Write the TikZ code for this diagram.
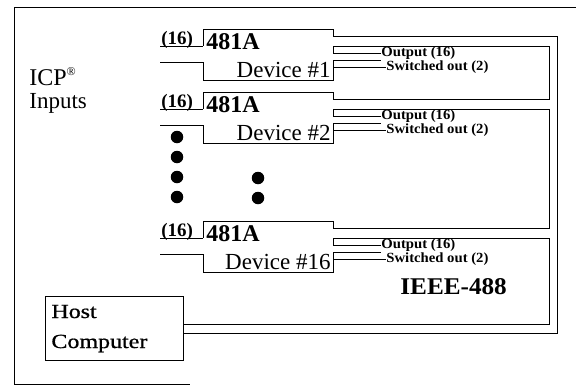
\documentclass[tikz,border=0pt]{standalone}
\usepackage{fontspec}
\setmainfont{Liberation Serif}
\newfontfamily\wideserif[FakeStretch=1.05]{Liberation Serif}
\newfontfamily\hostfont[FakeStretch=1.2,FakeBold=0.8]{Liberation Serif}
\begin{document}
\begin{tikzpicture}[x=1pt,y=-1pt,line width=0.8pt,
  inlbl/.style={font=\fontsize{19}{19}\selectfont\bfseries,anchor=base west,inner sep=0pt},
  typelbl/.style={font=\fontsize{24}{24}\selectfont\bfseries,anchor=base west,inner sep=0pt},
  devlbl/.style={font=\fontsize{23}{23}\selectfont,anchor=base east,inner sep=0pt},
  sidelbl/.style={font=\wideserif\fontsize{14}{14}\selectfont\bfseries,anchor=west,inner sep=0pt},
  dotmark/.style={circle,fill=black,inner sep=0pt,minimum size=12.5pt}]
\useasboundingbox (0,0) rectangle (576,391);
% outer frame
\draw (576,7) -- (14,7) -- (14,384) -- (190,384);
% left labels
\node[font=\fontsize{24}{24}\selectfont,anchor=base west,inner sep=0pt] (icp) at (29,85) {ICP\textsuperscript{\fontsize{12}{12}\selectfont\textregistered}};
\node[font=\fontsize{23}{23}\selectfont,anchor=base west,inner sep=0pt] (inputs) at (29,108) {Inputs};
% host computer
\node[draw,anchor=north west,minimum width=138pt,minimum height=64pt,inner sep=0pt] (host) at (45,296) {};
\node[font=\hostfont\fontsize{20}{20}\selectfont,anchor=base west,inner sep=0pt] (hostA) at (51,318) {Host};
\node[font=\hostfont\fontsize{20}{20}\selectfont,anchor=base west,inner sep=0pt] (hostB) at (51,348) {Computer};
\node[font=\wideserif\fontsize{24}{24}\selectfont\bfseries,anchor=base west,inner sep=0pt] (ieee) at (400,294) {IEEE-488};
% coordinates for bus
\coordinate (hu) at (183,324);
\coordinate (hl) at (183,333);
% ---------- devices ----------
% Device 1 (T=29)
\node[inlbl] (in1) at (161,44) {(16)};
\node[typelbl] (t1) at (206,49) {481A};
\node[devlbl] (d1) at (331,77) {Device \#1};
\node[sidelbl] (o1) at (381,53) {Output (16)};
\node[sidelbl] (s1) at (386,67) {Switched out (2)};
\draw (160,46) -- (203,46);
\draw (160,62) -- (203,62) -- (203,80) -- (333,80) -- (333,60) -- (o1.west|-0,60);
\draw (333,67) -- (s1.west);
% Device 2 (T=92)
\node[inlbl] (in2) at (161,107) {(16)};
\node[typelbl] (t2) at (206,112) {481A};
\node[devlbl] (d2) at (331,140) {Device \#2};
\node[sidelbl] (o2) at (381,116) {Output (16)};
\node[sidelbl] (s2) at (386,130) {Switched out (2)};
\draw (160,109) -- (203,109);
\draw (160,125) -- (203,125) -- (203,143) -- (333,143) -- (333,123) -- (o2.west|-0,123);
\draw (333,130) -- (s2.west);
% Device 16 (T=221)
\node[inlbl] (in16) at (161,236) {(16)};
\node[typelbl] (t16) at (206,241) {481A};
\node[devlbl] (d16) at (331,269) {Device \#16};
\node[sidelbl] (o16) at (381,245) {Output (16)};
\node[sidelbl] (s16) at (386,259) {Switched out (2)};
\draw (160,238) -- (203,238);
\draw (160,254) -- (203,254) -- (203,272) -- (333,272) -- (333,252) -- (o16.west|-0,252);
\draw (333,259) -- (s16.west);
% ---------- bus (daisy chain) ----------
\draw (hl) -- (557,333) -- (557,36) -- (333,36) -- (333,29) -- (203,29) -- (203,46);
\draw (o1.west) -- (333,53) -- (333,46) -- (549,46) -- (549,99) -- (333,99) -- (333,92) -- (203,92) -- (203,109);
\draw (o2.west) -- (333,116) -- (333,109) -- (549,109) -- (549,228) -- (333,228) -- (333,221) -- (203,221) -- (203,238);
\draw (o16.west) -- (333,245) -- (333,238) -- (549,238) -- (549,324) -- (hu);
% dots
\node[dotmark] (p1) at (177,137) {};
\node[dotmark] (p2) at (177,157) {};
\node[dotmark] (p3) at (177,177) {};
\node[dotmark] (p4) at (177,197) {};
\node[dotmark] (p5) at (258,178) {};
\node[dotmark] (p6) at (258,198) {};
\end{tikzpicture}
\end{document}
